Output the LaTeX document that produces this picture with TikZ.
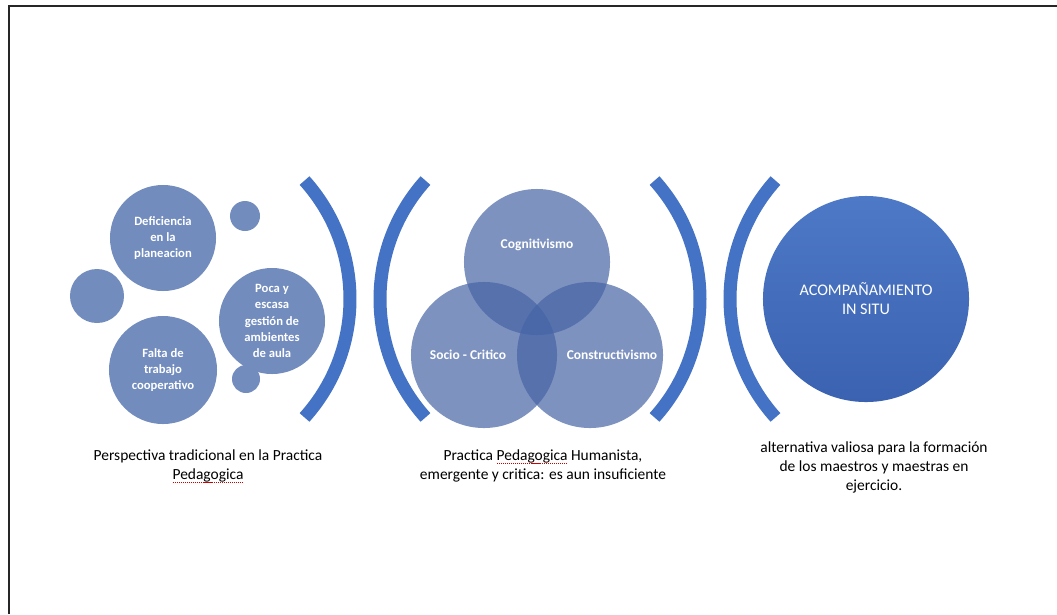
\documentclass[tikz,border=0pt]{standalone}
\usepackage{fontspec}
\setmainfont{Carlito}
\usetikzlibrary{positioning}
\newcommand\spellerr[1]{\setbox0\hbox{#1}\leavevmode\rlap{\textcolor{red!80!black}{\lower2.2pt\hbox to\wd0{\leaders\hbox to 1.4pt{\hss\rule{0.8pt}{0.55pt}\hss}\hfill}}}\box0\relax}

\definecolor{accblue}{RGB}{68,114,196}
\definecolor{accdark}{RGB}{58,98,176}
\definecolor{softblue}{RGB}{114,140,190}
\definecolor{vennblue}{RGB}{70,100,165}

\tikzset{
  bubble/.style={circle, inner sep=0pt, fill=softblue, text=white, align=center,
    font=\fontsize{9}{11.5}\selectfont\bfseries},
  venn/.style={circle, inner sep=0pt, minimum size=3.65cm, fill=vennblue, fill opacity=0.7},
  venntext/.style={text=white, font=\fontsize{9.6}{11}\selectfont\bfseries},
  bracket/.style={draw=accblue, line width=0.325cm},
  caption/.style={align=center, font=\fontsize{11}{13.5}\selectfont}
}

\begin{document}
\begin{tikzpicture}[x=0.025cm, y=0.025cm]
\fill[white] (0,0) rectangle (1057,-614);
\useasboundingbox (0,0) rectangle (1057,-614);

% Frame
\draw[line width=0.06cm, black!85] (9,-614) -- (9,-6) -- (1057,-6);

% Left group
\node[bubble, minimum size=2.65cm] (defic) at (163,-238) {Deficiencia\\en la\\planeacion};
\node[bubble, minimum size=2.65cm] (poca) at (272,-321) {Poca y\\escasa\\gestión de\\ambientes\\de aula};
\node[bubble, minimum size=2.7cm] (falta) at (163,-370) {Falta de\\trabajo\\cooperativo};
\node[bubble, minimum size=0.75cm] (dot1) at (245,-216) {};
\node[bubble, minimum size=1.35cm] (dot2) at (97,-296) {};
\node[bubble, minimum size=0.7cm] (dot3) at (246,-379) {};

% Brackets
\draw[bracket] (173,-299) ++(-42:177) arc[start angle=-42, end angle=42, radius=177];
\draw[bracket] (557,-299) ++(138:177) arc[start angle=138, end angle=222, radius=177];
\draw[bracket] (523,-299) ++(-42:177) arc[start angle=-42, end angle=42, radius=177];
\draw[bracket] (907,-299) ++(138:177) arc[start angle=138, end angle=222, radius=177];

% Venn circles
\node[venn] (cog) at (537,-262) {};
\node[venn] (socio) at (484,-355) {};
\node[venn] (constr) at (590,-355) {};
\node[venntext] (cogtext) at ([yshift=0.42cm]cog.center) {Cognitivismo};
\node[venntext] (sociotext) at ([xshift=-0.4cm]socio.center) {Socio - Critico};
\node[venntext] (constrtext) at ([xshift=0.55cm]constr.center) {Constructivismo};

% Right circle
\node[circle, inner sep=0pt, minimum size=5.15cm, top color=accblue!95!white, bottom color=accdark,
  text=white, align=center, font=\fontsize{11.5}{13.5}\selectfont]
  (acomp) at (866,-299) {ACOMPAÑAMIENTO\\IN SITU};

% Captions
\node[caption] (cap1) at (208,-466) {Perspectiva tradicional en la Practica\\\spellerr{Pedagogica}};
\node[caption] (cap2) at (543,-466) {Practica \spellerr{Pedagogica} Humanista,\\emergente y critica: es aun insuficiente};
\node[caption] (cap3) at (874,-467) {alternativa valiosa para la formación\\de los maestros y maestras en\\ejercicio.};
\end{tikzpicture}
\end{document}
